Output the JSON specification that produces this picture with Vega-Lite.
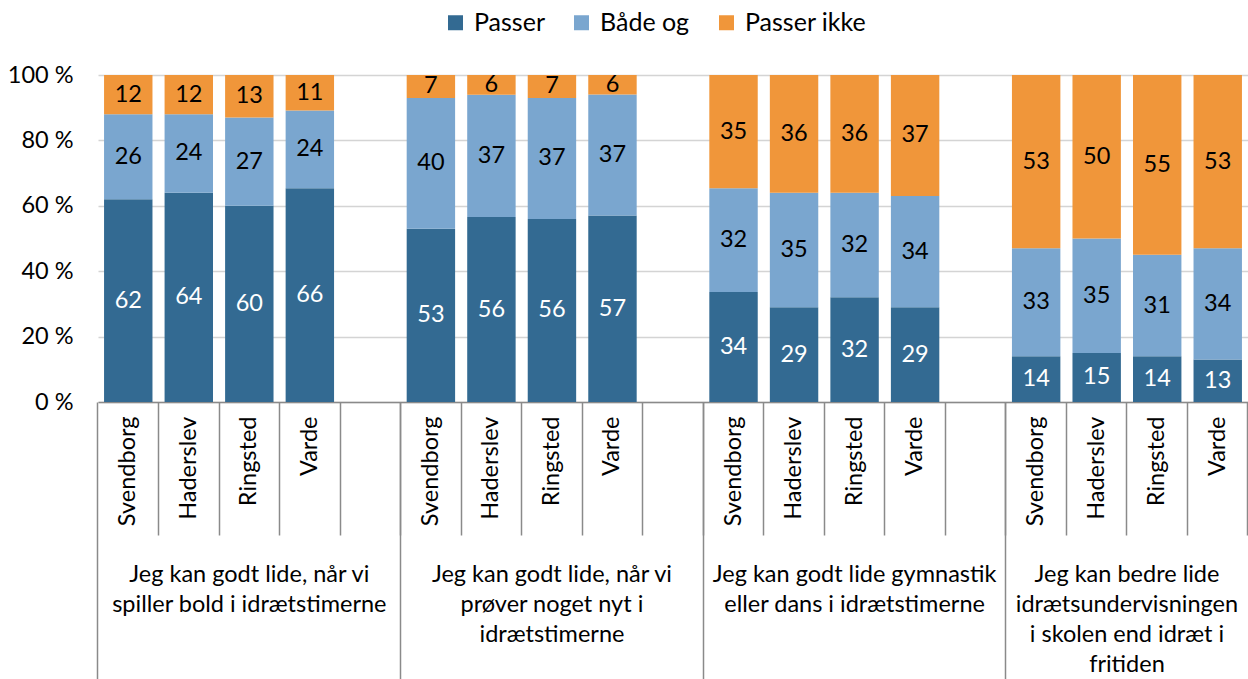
{
  "$schema": "https://vega.github.io/schema/vega-lite/v6.json",
  "width": 1150,
  "height": 327,
  "autosize": {"type": "none"},
  "padding": {"left": 98, "top": 75, "right": 0, "bottom": 277},
  "background": "white",
  "config": {
    "font": "Lato",
    "view": {"stroke": null}
  },
  "data": {
    "values": [
      {"slot": "1|Svendborg", "cat": "Passer", "ord": 1, "v": 62},
      {"slot": "1|Svendborg", "cat": "Både og", "ord": 2, "v": 26},
      {"slot": "1|Svendborg", "cat": "Passer ikke", "ord": 3, "v": 12},
      {"slot": "1|Haderslev", "cat": "Passer", "ord": 1, "v": 64},
      {"slot": "1|Haderslev", "cat": "Både og", "ord": 2, "v": 24},
      {"slot": "1|Haderslev", "cat": "Passer ikke", "ord": 3, "v": 12},
      {"slot": "1|Ringsted", "cat": "Passer", "ord": 1, "v": 60},
      {"slot": "1|Ringsted", "cat": "Både og", "ord": 2, "v": 27},
      {"slot": "1|Ringsted", "cat": "Passer ikke", "ord": 3, "v": 13},
      {"slot": "1|Varde", "cat": "Passer", "ord": 1, "v": 66},
      {"slot": "1|Varde", "cat": "Både og", "ord": 2, "v": 24},
      {"slot": "1|Varde", "cat": "Passer ikke", "ord": 3, "v": 11},
      {"slot": "2|Svendborg", "cat": "Passer", "ord": 1, "v": 53},
      {"slot": "2|Svendborg", "cat": "Både og", "ord": 2, "v": 40},
      {"slot": "2|Svendborg", "cat": "Passer ikke", "ord": 3, "v": 7},
      {"slot": "2|Haderslev", "cat": "Passer", "ord": 1, "v": 56},
      {"slot": "2|Haderslev", "cat": "Både og", "ord": 2, "v": 37},
      {"slot": "2|Haderslev", "cat": "Passer ikke", "ord": 3, "v": 6},
      {"slot": "2|Ringsted", "cat": "Passer", "ord": 1, "v": 56},
      {"slot": "2|Ringsted", "cat": "Både og", "ord": 2, "v": 37},
      {"slot": "2|Ringsted", "cat": "Passer ikke", "ord": 3, "v": 7},
      {"slot": "2|Varde", "cat": "Passer", "ord": 1, "v": 57},
      {"slot": "2|Varde", "cat": "Både og", "ord": 2, "v": 37},
      {"slot": "2|Varde", "cat": "Passer ikke", "ord": 3, "v": 6},
      {"slot": "3|Svendborg", "cat": "Passer", "ord": 1, "v": 34},
      {"slot": "3|Svendborg", "cat": "Både og", "ord": 2, "v": 32},
      {"slot": "3|Svendborg", "cat": "Passer ikke", "ord": 3, "v": 35},
      {"slot": "3|Haderslev", "cat": "Passer", "ord": 1, "v": 29},
      {"slot": "3|Haderslev", "cat": "Både og", "ord": 2, "v": 35},
      {"slot": "3|Haderslev", "cat": "Passer ikke", "ord": 3, "v": 36},
      {"slot": "3|Ringsted", "cat": "Passer", "ord": 1, "v": 32},
      {"slot": "3|Ringsted", "cat": "Både og", "ord": 2, "v": 32},
      {"slot": "3|Ringsted", "cat": "Passer ikke", "ord": 3, "v": 36},
      {"slot": "3|Varde", "cat": "Passer", "ord": 1, "v": 29},
      {"slot": "3|Varde", "cat": "Både og", "ord": 2, "v": 34},
      {"slot": "3|Varde", "cat": "Passer ikke", "ord": 3, "v": 37},
      {"slot": "4|Svendborg", "cat": "Passer", "ord": 1, "v": 14},
      {"slot": "4|Svendborg", "cat": "Både og", "ord": 2, "v": 33},
      {"slot": "4|Svendborg", "cat": "Passer ikke", "ord": 3, "v": 53},
      {"slot": "4|Haderslev", "cat": "Passer", "ord": 1, "v": 15},
      {"slot": "4|Haderslev", "cat": "Både og", "ord": 2, "v": 35},
      {"slot": "4|Haderslev", "cat": "Passer ikke", "ord": 3, "v": 50},
      {"slot": "4|Ringsted", "cat": "Passer", "ord": 1, "v": 14},
      {"slot": "4|Ringsted", "cat": "Både og", "ord": 2, "v": 31},
      {"slot": "4|Ringsted", "cat": "Passer ikke", "ord": 3, "v": 55},
      {"slot": "4|Varde", "cat": "Passer", "ord": 1, "v": 13},
      {"slot": "4|Varde", "cat": "Både og", "ord": 2, "v": 34},
      {"slot": "4|Varde", "cat": "Passer ikke", "ord": 3, "v": 53}
    ]
  },
  "layer": [
    {
      "mark": {"type": "bar"},
      "encoding": {
        "x": {
          "field": "slot",
          "type": "nominal",
          "scale": {
            "domain": ["1|Svendborg", "1|Haderslev", "1|Ringsted", "1|Varde", "1|",
                       "2|Svendborg", "2|Haderslev", "2|Ringsted", "2|Varde", "2|",
                       "3|Svendborg", "3|Haderslev", "3|Ringsted", "3|Varde", "3|",
                       "4|Svendborg", "4|Haderslev", "4|Ringsted", "4|Varde"],
            "paddingInner": 0.2,
            "paddingOuter": 0.1
          },
          "axis": {
            "title": null,
            "orient": "bottom",
            "labelExpr": "split(datum.value, '|')[1]",
            "labelAngle": -90,
            "labelAlign": "right",
            "labelBaseline": "middle",
            "labelFontSize": 23.5,
            "labelColor": "#000000",
            "labelPadding": -119,
            "tickSize": 133,
            "tickColor": "#8a8a8a",
            "tickWidth": 1.5,
            "domainColor": "#8a8a8a",
            "domainWidth": 1.5,
            "bandPosition": 1.125,
            "labelOverlap": false,
            "labelBound": false,
            "grid": false
          }
        },
        "y": {
          "field": "v",
          "type": "quantitative",
          "stack": "normalize",
          "scale": {"domain": [0, 1]},
          "axis": {
            "title": null,
            "values": [0, 0.2, 0.4, 0.6, 0.8, 1],
            "labelExpr": "round(datum.value * 100) + ' %'",
            "domain": false,
            "ticks": false,
            "grid": true,
            "gridColor": "#d4d4d4",
            "gridWidth": 1.5,
            "labelFontSize": 23.5,
            "labelColor": "#000000",
            "labelPadding": 25
          }
        },
        "color": {
          "field": "cat",
          "type": "nominal",
          "scale": {
            "domain": ["Passer", "Både og", "Passer ikke"],
            "range": ["#336a92", "#7aa6cf", "#f0963a"]
          },
          "legend": {
            "title": null,
            "orient": "none",
            "legendX": 345,
            "legendY": -65,
            "direction": "horizontal",
            "symbolType": "square",
            "symbolSize": 225,
            "symbolStrokeWidth": 0,
            "labelFontSize": 25,
            "labelColor": "#000000",
            "labelOffset": 6,
            "columnPadding": 24
          }
        },
        "order": {"field": "ord"}
      }
    },
    {
      "mark": {"type": "text", "fontSize": 23.5, "baseline": "middle"},
      "encoding": {
        "x": {
          "field": "slot",
          "type": "nominal",
          "axis": {
            "title": null,
            "orient": "bottom",
            "values": ["1|Svendborg", "2|Svendborg", "3|Svendborg", "4|Svendborg"],
            "bandPosition": -0.125,
            "tickSize": 277,
            "tickColor": "#8a8a8a",
            "tickWidth": 1.5,
            "domain": false,
            "grid": false,
            "labelAngle": 0,
            "labelAlign": "center",
            "labelBaseline": "top",
            "labelFontSize": 23.5,
            "labelLineHeight": 30,
            "labelColor": "#000000",
            "labelPadding": -117,
            "labelOffset": {"condition": {"test": "datum.value === '4|Svendborg'", "value": 90.8}, "value": 121.05},
            "labelOverlap": false,
            "labelBound": false,
            "labelLimit": 400,
            "labelExpr": "datum.value === '1|Svendborg' ? ['Jeg kan godt lide, når vi', 'spiller bold i idrætstimerne'] : datum.value === '2|Svendborg' ? ['Jeg kan godt lide, når vi', 'prøver noget nyt i', 'idrætstimerne'] : datum.value === '3|Svendborg' ? ['Jeg kan godt lide gymnastik', 'eller dans i idrætstimerne'] : ['Jeg kan bedre lide', 'idrætsundervisningen', 'i skolen end idræt i', 'fritiden']"
          }
        },
        "y": {
          "field": "v",
          "type": "quantitative",
          "stack": "normalize",
          "bandPosition": 0.5,
          "axis": {
            "title": null,
            "values": [0, 0.2, 0.4, 0.6, 0.8, 1],
            "labelExpr": "round(datum.value * 100) + ' %'",
            "domain": false,
            "ticks": false,
            "grid": true,
            "gridColor": "#d4d4d4",
            "gridWidth": 1.5,
            "labelFontSize": 23.5,
            "labelColor": "#000000",
            "labelPadding": 25
          }
        },
        "detail": {"field": "cat"},
        "order": {"field": "ord"},
        "text": {"field": "v", "type": "quantitative"},
        "color": {"condition": {"test": "datum.cat === 'Passer'", "value": "#ffffff"}, "value": "#000000"}
      }
    }
  ],
  "resolve": {"axis": {"x": "independent"}}
}
